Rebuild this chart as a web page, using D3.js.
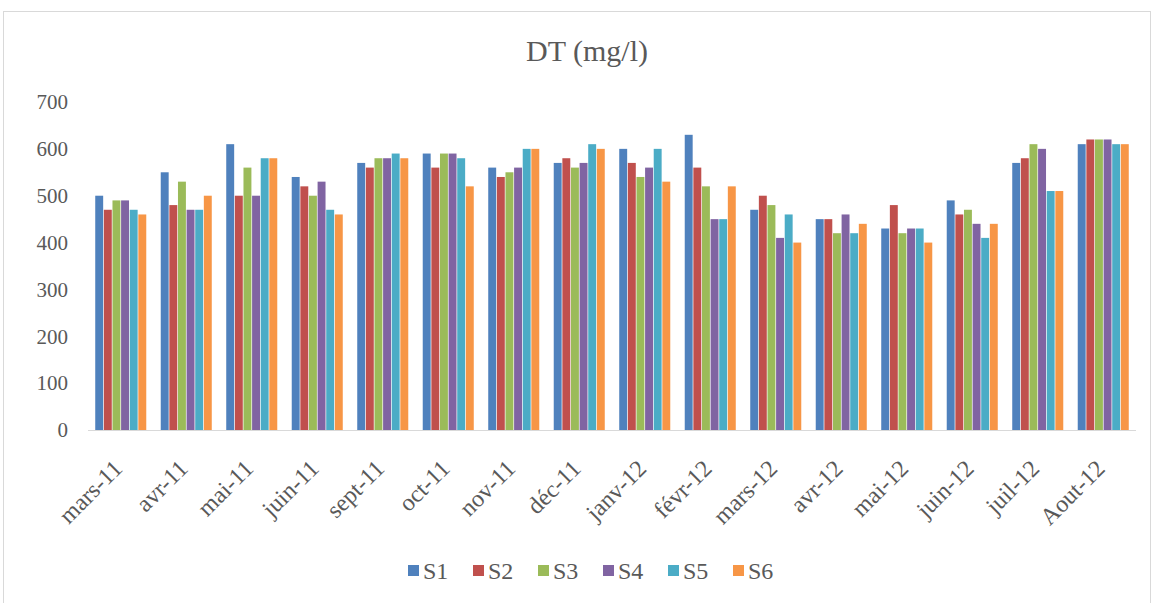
<!DOCTYPE html>
<html><head><meta charset="utf-8">
<script src="https://cdn.jsdelivr.net/npm/d3@7"></script>
<style>body{margin:0;background:#fff}svg{display:block}text{font-family:"Liberation Serif","Times New Roman",serif;fill:#595959}</style>
</head><body><svg id="c" width="1154" height="603"></svg>
<script>
const categories = ["mars-11","avr-11","mai-11","juin-11","sept-11","oct-11","nov-11","déc-11","janv-12","févr-12","mars-12","avr-12","mai-12","juin-12","juil-12","Aout-12"];
const seriesNames = ["S1","S2","S3","S4","S5","S6"];
const S1 = [500,550,610,540,570,590,560,570,600,630,470,450,430,490,570,610];
const S2 = [470,480,500,520,560,560,540,580,570,560,500,450,480,460,580,620];
const S3 = [490,530,560,500,580,590,550,560,540,520,480,420,420,470,610,620];
const S4 = [490,470,500,530,580,590,560,570,560,450,410,460,430,440,600,620];
const S5 = [470,470,580,470,590,580,600,610,600,450,460,420,430,410,510,610];
const S6 = [460,500,580,460,580,520,600,600,530,520,400,440,400,440,510,610];
const yTicks = [0,100,200,300,400,500,600,700];
const colors = ["#4F81BD","#C0504D","#9BBB59","#8064A2","#4BACC6","#F79646"];
const seriesValues = [S1,S2,S3,S4,S5,S6];

const svg = d3.select("#c");
svg.append("rect").attr("x",3.5).attr("y",11.5).attr("width",1147).attr("height",600)
  .attr("fill","none").attr("stroke","#d9d9d9");

const L = 88, R = 1136, T = 102, B = 430;
const x = d3.scaleBand().domain(categories).range([L,R]).paddingInner(0.2).paddingOuter(0.1);
const xs = d3.scaleBand().domain(seriesNames).range([0,x.bandwidth()]).padding(0.08);
const y = d3.scaleLinear().domain([0,700]).range([B,T]);

svg.append("text").attr("x",587).attr("y",61).attr("text-anchor","middle")
  .style("font-size","30px").text("DT (mg/l)");

const yAxis = svg.append("g").attr("transform",`translate(${L},0)`)
  .call(d3.axisLeft(y).tickValues(yTicks).tickSize(0).tickPadding(20));
yAxis.select(".domain").remove();
yAxis.selectAll("text").style("font-size","21px").style("fill","#595959");

const groups = svg.append("g").selectAll("g").data(categories).join("g")
  .attr("transform",d=>`translate(${x(d)},0)`);
groups.selectAll("rect").data((d,i)=>seriesNames.map((s,j)=>({s,v:seriesValues[j][i],j})))
  .join("rect").attr("x",d=>xs(d.s)).attr("width",xs.bandwidth())
  .attr("y",d=>y(d.v)).attr("height",d=>y(0)-y(d.v)).attr("fill",d=>colors[d.j]);

svg.append("line").attr("x1",L).attr("x2",R).attr("y1",B+0.5).attr("y2",B+0.5).attr("stroke","#d9d9d9");

const xAxis = svg.append("g").attr("transform",`translate(0,${B})`)
  .call(d3.axisBottom(x).tickSize(0).tickPadding(0));
xAxis.select(".domain").remove();
xAxis.selectAll("text").style("font-size","24px").style("fill","#595959")
  .attr("text-anchor","end").attr("dy","0.35em")
  .attr("transform","translate(-3,34) rotate(-45)").attr("x",0).attr("y",0);
xAxis.selectAll(".tick").attr("transform",d=>`translate(${x(d)+x.bandwidth()/2},0)`);

const leg = svg.append("g").attr("transform","translate(408,571)");
const items = leg.selectAll("g").data(seriesNames).join("g").attr("transform",(d,i)=>`translate(${i*65},0)`);
items.append("rect").attr("x",0).attr("y",-6).attr("width",11).attr("height",11).attr("fill",(d,i)=>colors[i]);
items.append("text").attr("x",15).attr("y",0).attr("dy","0.35em").style("font-size","24px").text(d=>d);
</script></body></html>
